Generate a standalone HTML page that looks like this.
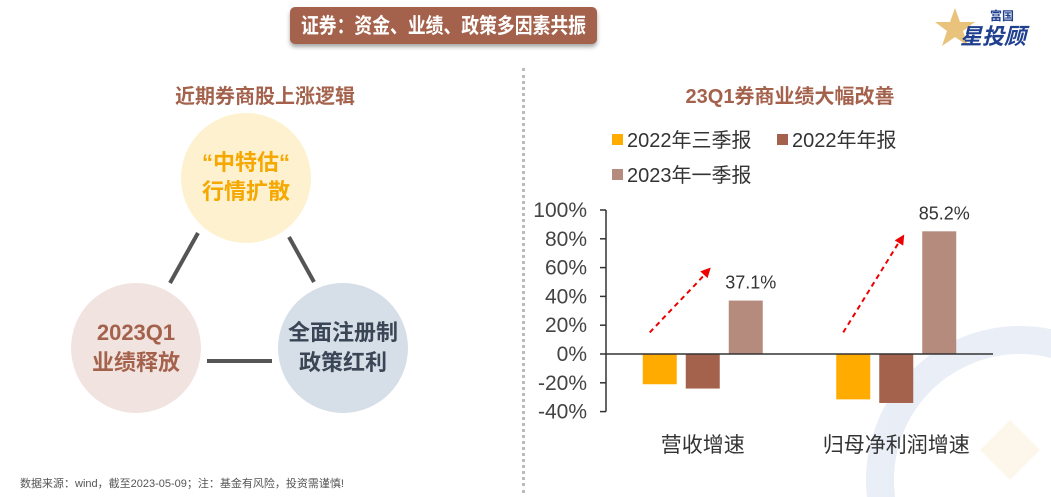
<!DOCTYPE html>
<html><head><meta charset="utf-8">
<style>
html,body{margin:0;width:1051px;height:497px;background:#fff;overflow:hidden;position:relative;font-family:"Liberation Sans","Noto Sans CJK SC",sans-serif}
.a{position:absolute}
</style></head><body>
<div class="a" style="left:290px;top:7px;width:307px;height:37px;background:#a4624c;border-radius:5px;box-shadow:0 3px 4px rgba(0,0,0,.35)"></div>
<svg class="a" style="left:290px;top:7px" width="307" height="37"><text x="153.5" y="26" text-anchor="middle" textLength="285" lengthAdjust="spacingAndGlyphs" font-size="21" font-weight="bold" fill="#fff" font-family="Noto Sans CJK SC, sans-serif">证券：资金、业绩、政策多因素共振</text></svg>
<div class="a" style="left:935px;top:4px;width:110px;height:46px">
 <svg width="110" height="46"><polygon points="20,4 25,18 40,18 28,27 33,42 20,33 7,42 12,27 0,18 15,18" fill="#e3b45a" opacity=".8"/>
 <text x="55" y="16" font-size="12" fill="#1f3f8f" font-weight="bold" font-family="Noto Sans CJK SC">富国</text>
 <text x="25" y="40" font-size="22" fill="#1f3f8f" font-weight="bold" font-style="italic" font-family="Noto Sans CJK SC">星投顾</text></svg></div>
<div class="a" style="left:140px;top:80px;width:250px;text-align:center;font-size:20px;font-weight:bold;color:#a4624c">近期券商股上涨逻辑</div>
<svg class="a" style="left:0;top:0" width="520" height="497">
 <line x1="198" y1="233" x2="170" y2="283" stroke="#555" stroke-width="4"/>
 <line x1="289" y1="237" x2="314" y2="282" stroke="#555" stroke-width="4"/>
 <line x1="207" y1="361" x2="272" y2="361" stroke="#555" stroke-width="4"/>
 <circle cx="246" cy="178" r="65" fill="#fdf1cf"/>
 <circle cx="136" cy="348" r="65" fill="#f1e3df"/>
 <circle cx="343" cy="348" r="65" fill="#d6dee7"/>
</svg>
<div class="a" style="left:176px;top:148px;width:140px;text-align:center;font-size:22px;font-weight:bold;color:#f5a800;line-height:29px">“中特估“<br>行情扩散</div>
<div class="a" style="left:66px;top:318px;width:140px;text-align:center;font-size:22px;font-weight:bold;color:#a4624c;line-height:30px">2023Q1<br>业绩释放</div>
<div class="a" style="left:273px;top:318px;width:140px;text-align:center;font-size:22px;font-weight:bold;color:#3a4656;line-height:30px">全面注册制<br>政策红利</div>
<div class="a" style="left:20px;top:477px;font-size:11px;line-height:14px;color:#555">数据来源：wind，截至2023-05-09；注：基金有风险，投资需谨慎!</div>
<div class="a" style="left:522px;top:68px;height:425px;border-left:3px dotted #bbb"></div>
<div class="a" style="left:640px;top:80px;width:300px;text-align:center;font-size:20px;font-weight:bold;color:#a4624c">23Q1券商业绩大幅改善</div>
<svg class="a" style="left:0;top:0" width="1051" height="497" id="chart">
 <g opacity=".15">
  <circle cx="1020" cy="480" r="140" fill="none" stroke="#6a8cc8" stroke-width="28"/>
  <polygon points="980,450 1010,420 1040,450 1010,480" fill="#f3c878"/>
 </g>
</svg>
<script>
const categories=["营收增速","归母净利润增速"];
const seriesNames=["2022年三季报","2022年年报","2023年一季报"];
const colors=["#ffab00","#a4624c","#b58b7d"];
const s1=[-21,-31.5];
const s2=[-24,-34];
const s3=[37.1,85.2];
const ticks=[100,80,60,40,20,0,-20,-40];
const labels=["37.1%","85.2%"];
const svg=document.getElementById('chart');
const NS='http://www.w3.org/2000/svg';
const y=v=>354-v*(354-210)/100;
const axX=606, plotR=993, groupW=(plotR-axX)/2;
function mk(t,a){const e=document.createElementNS(NS,t);for(const k in a)e.setAttribute(k,a[k]);svg.appendChild(e);return e;}
const lg=[[612,141],[777,141],[612,176]];
seriesNames.forEach((n,i)=>{
 const r=mk('rect',{x:lg[i][0],y:lg[i][1]-7,width:11,height:11,fill:colors[i]});
 
 
 const t=mk('text',{x:lg[i][0]+15,y:lg[i][1]+6,'font-size':20,fill:'#333'});
 t.textContent=n;
 
 
});
const ax=mk('line',{x1:axX,y1:y(100),x2:axX,y2:y(-40),stroke:'#333','stroke-width':1.5});


ticks.forEach(v=>{
 mk('line',{x1:axX-6,y1:y(v),x2:axX,y2:y(v),stroke:'#333','stroke-width':1.5});
 const t=mk('text',{x:axX-19,y:y(v)+7,'font-size':21,fill:'#444','text-anchor':'end'});
 t.textContent=v+'%';
 
 
});
const series=[s1,s2,s3];
const bw=34, gap=9;
categories.forEach((c,ci)=>{
 const cx=axX+groupW*ci+groupW/2;
 series.forEach((s,si)=>{
  const x=cx+(si-1)*(bw+gap)-bw/2;
  const v=s[ci];
  const r=mk('rect',{x:x,y:Math.min(y(v),y(0)),width:bw,height:Math.abs(y(v)-y(0)),fill:colors[si]});
  
  
 });
 const lx=cx+(bw+gap);
 const t=mk('text',{x:lx+5,y:y(s3[ci])-12,'font-size':18,fill:'#333','text-anchor':'middle'});
 t.textContent=labels[ci];
 
 
 const sx=cx-(bw+gap)-10, sy=y(15);
 const ex=cx+8, ey=Math.max(y(s3[ci]+23),y(83));
 const ar=mk('line',{x1:sx,y1:sy,x2:ex-3,y2:ey+4,stroke:'#e00','stroke-width':2,'stroke-dasharray':'5,4'});
 
 
 const ang=Math.atan2(ey-sy,ex-sx), L=10, W=5;
 const bx=ex-L*Math.cos(ang), by=ey-L*Math.sin(ang);
 mk('polygon',{points:`${ex},${ey} ${bx-W*Math.sin(ang)},${by+W*Math.cos(ang)} ${bx+W*Math.sin(ang)},${by-W*Math.cos(ang)}`,fill:'#e00'});
 const ct=mk('text',{x:cx,y:452,'font-size':21,fill:'#333','text-anchor':'middle'});
 ct.textContent=c;
 
 
});
const zl=mk('line',{x1:axX,y1:y(0),x2:plotR,y2:y(0),stroke:'#333','stroke-width':1.5});


</script>
</body></html>
